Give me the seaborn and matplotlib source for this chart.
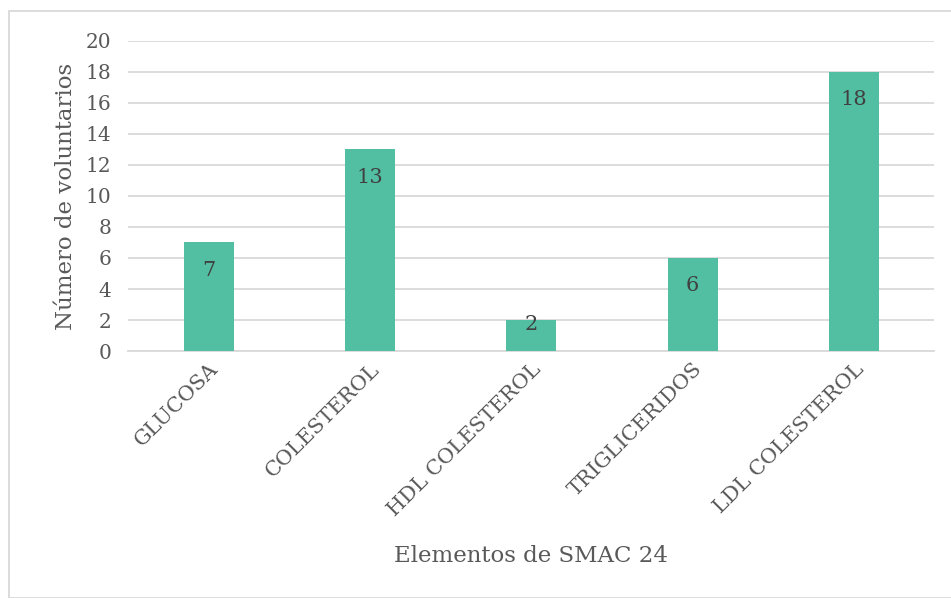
import matplotlib
matplotlib.use("Agg")
import matplotlib.pyplot as plt
from matplotlib.patches import Rectangle
import seaborn as sns
import pandas as pd

categories = ["GLUCOSA", "COLESTEROL", "HDL COLESTEROL", "TRIGLICERIDOS", "LDL COLESTEROL"]
values = [7, 13, 2, 6, 18]
y_ticks = [0, 2, 4, 6, 8, 10, 12, 14, 16, 18, 20]

sns.set_theme(style="white")
plt.rcParams["font.family"] = ["DejaVu Serif", "DejaVu Sans"]

df = pd.DataFrame({"elemento": categories, "n": values})

fig = plt.figure(figsize=(9.51, 5.98), dpi=100)
ax = fig.add_axes([0.1346, 0.413, 0.848, 0.5186])

bar_color = "#52BFA3"
text_color = "#595959"

sns.barplot(data=df, x="elemento", y="n", color=bar_color, width=0.31,
            saturation=1, linewidth=0, ax=ax, zorder=3)

ax.set_ylim(0, 20)
ax.set_xlim(-0.5, len(categories) - 0.5)
ax.set_yticks(y_ticks)
ax.yaxis.grid(True, color="#D9D9D9", linewidth=1.3, zorder=0)
ax.set_axisbelow(True)
for side in ["left", "right", "top"]:
    ax.spines[side].set_visible(False)
ax.spines["bottom"].set_color("#D9D9D9")
ax.spines["bottom"].set_linewidth(1.3)
ax.tick_params(axis="y", length=0, labelsize=14.5, colors=text_color, pad=12)
ax.tick_params(axis="x", length=0, labelsize=15, colors=text_color, pad=6)

plt.setp(ax.get_xticklabels(), rotation=45, ha="right", rotation_mode="anchor")

ax.set_xlabel("Elementos de SMAC 24", fontsize=16.5, color=text_color, labelpad=18)
ax.set_ylabel("Número de voluntarios", fontsize=16.5, color=text_color, labelpad=6)

# value labels inside the top of each bar; very short bars get them at the top edge
fig.canvas.draw()
px_per_unit = ax.transData.transform((0, 1))[1] - ax.transData.transform((0, 0))[1]
for i, v in enumerate(values):
    bar_px = v * px_per_unit
    offset_pt = -20 if bar_px > 45 else -3.5
    ax.annotate(str(v), xy=(i, v), xytext=(0, offset_pt), textcoords="offset points",
                ha="center", va="center", fontsize=15, color="#404040", zorder=4)

# light frame around the chart area
fig.patches.append(Rectangle((9 / 951, 0), 1.0, 1 - 11 / 598, transform=fig.transFigure,
                             fill=False, edgecolor="#D9D9D9", linewidth=1.3))

fig.savefig("out.png", dpi=100, facecolor="white")
